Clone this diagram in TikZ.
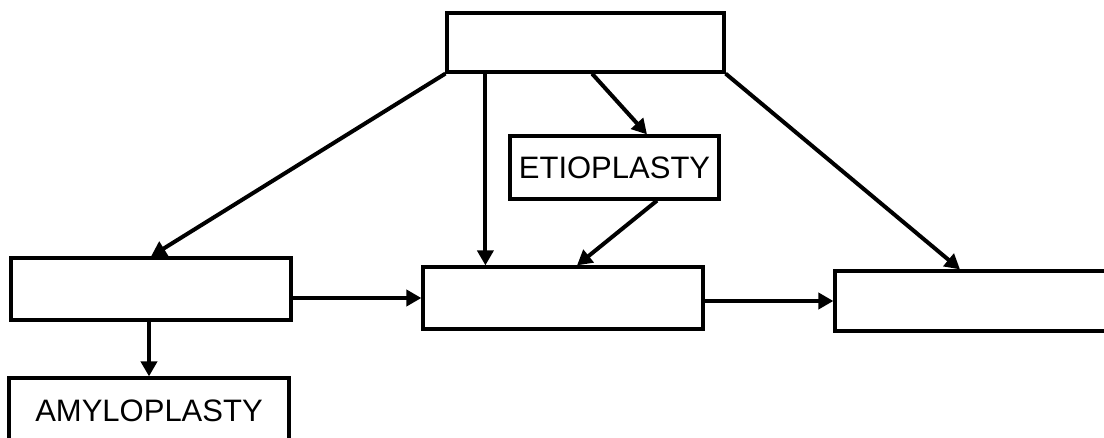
\documentclass[tikz,border=0pt]{standalone}
\usepackage{fontspec}
\setmainfont{Liberation Sans}
\usepackage{tikz}
\usetikzlibrary{arrows.meta,positioning,calc}

\begin{document}
\begin{tikzpicture}[x=1pt,y=-1pt,
    box/.style={draw, line width=3.2pt, rectangle, minimum width=280pt, minimum height=62pt, inner sep=0pt, font=\fontsize{31}{34}\selectfont},
    arr/.style={line width=4pt, -{Triangle[length=15pt,width=16pt]}}]
        \clip (0,0) rectangle (1104,437);
        \fill[white] (0,0) rectangle (1104,437);

        % Boxes
        \node[box, minimum width=277pt, minimum height=59pt] (top) at (585.5,42.5) {};
        \node[box, minimum width=209pt, minimum height=63pt] (etio) at (614.5,167.5) {ETIOPLASTY};
        \node[box] (left) at (151,289) {};
        \node[box] (middle) at (563,298) {};
        \node[box, minimum height=60pt] (right) at (975,301) {};
        \node[box, minimum height=66pt] (amylo) at (149,411) {AMYLOPLASTY};

        % Arrows from the top box
        \draw[arr] (top.south west) -- (left.north);
        \draw[arr] ([xshift=40pt]top.south west) -- ([xshift=40pt]top.south west |- middle.north);
        \draw[arr] ([xshift=6.5pt]top.south) -- ([xshift=32.5pt]etio.north);
        \draw[arr] (top.south east) -- ([xshift=-15pt]right.north);

        % Etioplasty to middle
        \draw[arr] ([xshift=42.5pt]etio.south) -- ([xshift=14pt]middle.north);

        % Horizontal chain
        \draw[arr] (left.east |- middle.west) -- (middle.west);
        \draw[arr] (middle.east |- right.west) -- (right.west);

        % Amyloplasty
        \draw[arr] (amylo.north |- left.south) -- (amylo.north);
      \end{tikzpicture}
\end{document}
